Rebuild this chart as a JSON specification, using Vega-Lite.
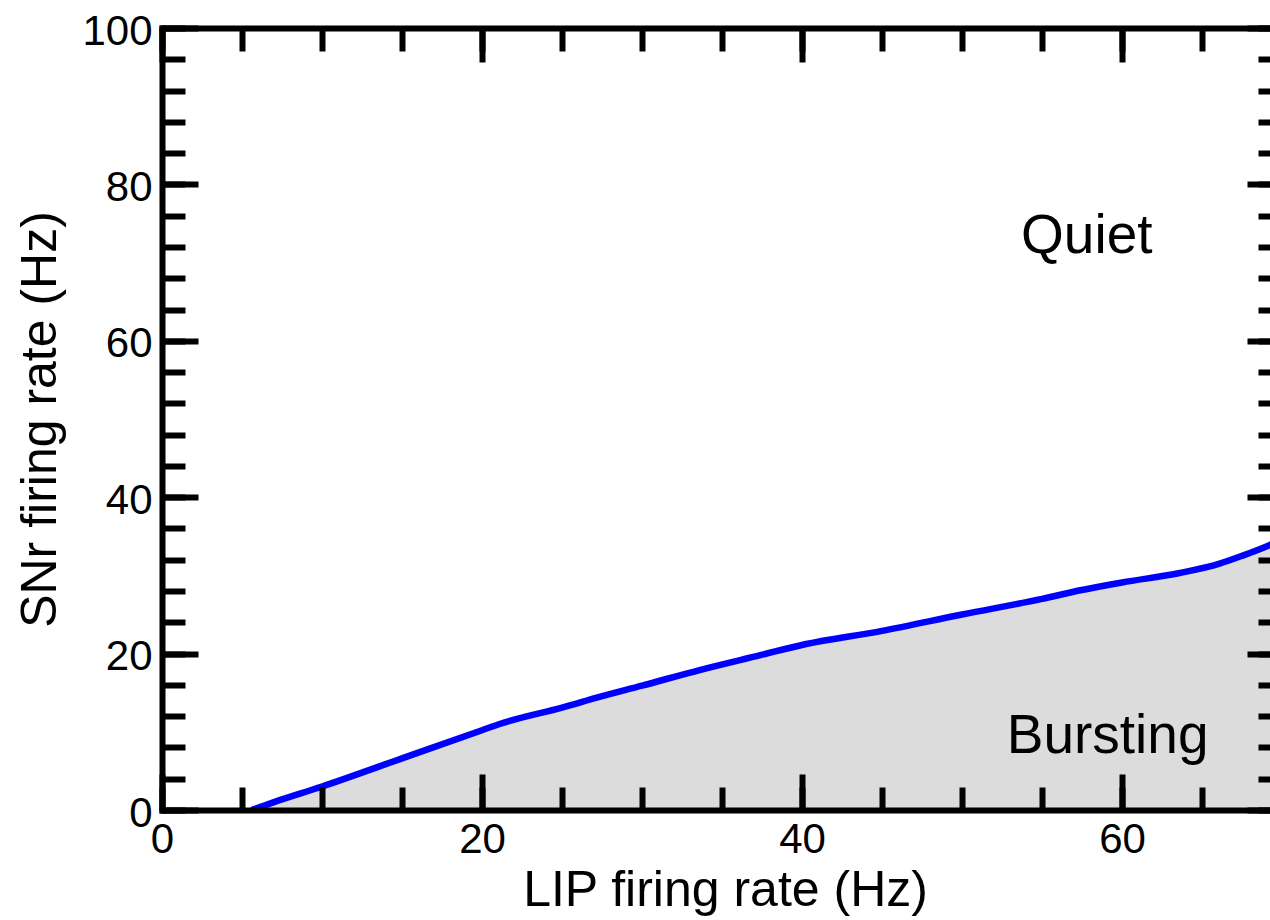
{
  "$schema": "https://vega.github.io/schema/vega-lite/v6.json",
  "usermeta": {"embedOptions": {"actions": false}},
  "autosize": {"type": "none"},
  "width": 1108,
  "height": 782,
  "padding": {"left": 162, "top": 28, "right": 0, "bottom": 110},
  "background": "white",
  "config": {
    "view": {"stroke": null},
    "font": "Liberation Sans",
    "axis": {
      "zindex": 1,
      "grid": false,
      "domainColor": "black",
      "domainWidth": 6,
      "domainCap": "square",
      "tickColor": "black",
      "tickWidth": 6,
      "tickCap": "butt",
      "labelColor": "black",
      "labelFont": "Liberation Sans",
      "labelFontSize": 42,
      "labelFlush": false,
      "labelOverlap": false,
      "titleColor": "black",
      "titleFont": "Liberation Sans",
      "titleFontSize": 50,
      "titleFontWeight": "normal"
    }
  },
  "datasets": {
    "boundary": [
      {"lip": 5.6, "snr": 0.0},
      {"lip": 7.0, "snr": 1.0},
      {"lip": 10.0, "snr": 3.0},
      {"lip": 15.0, "snr": 6.6},
      {"lip": 20.0, "snr": 10.2},
      {"lip": 21.1, "snr": 11.0},
      {"lip": 25.0, "snr": 13.1},
      {"lip": 27.4, "snr": 14.5},
      {"lip": 30.0, "snr": 15.9},
      {"lip": 33.6, "snr": 17.9},
      {"lip": 37.4, "snr": 19.8},
      {"lip": 40.0, "snr": 21.1},
      {"lip": 45.0, "snr": 22.9},
      {"lip": 50.0, "snr": 25.0},
      {"lip": 55.0, "snr": 27.0},
      {"lip": 57.4, "snr": 28.1},
      {"lip": 60.0, "snr": 29.1},
      {"lip": 63.6, "snr": 30.3},
      {"lip": 66.1, "snr": 31.5},
      {"lip": 67.5, "snr": 32.5},
      {"lip": 69.25, "snr": 33.9},
      {"lip": 70.0, "snr": 34.6}
    ],
    "regions": [
      {"label": "Quiet", "lip": 57.8, "snr": 71.2},
      {"label": "Bursting", "lip": 59.1, "snr": 7.3}
    ]
  },
  "resolve": {"axis": {"x": "independent", "y": "independent"}},
  "layer": [
    {
      "data": {"name": "boundary"},
      "mark": {"type": "area", "color": "#dcdcdc", "clip": true, "interpolate": "monotone"},
      "encoding": {
        "x": {
          "field": "lip", "type": "quantitative",
          "scale": {"domain": [0, 69.25], "nice": false, "zero": false},
          "axis": {
            "orient": "bottom",
            "zindex": 2,
            "title": "LIP firing rate (Hz)",
            "values": [0, 20, 40, 60],
            "tickSize": -36,
            "labelPadding": 78,
            "labelBaseline": "alphabetic",
            "titleX": 563,
            "titleY": 95,
            "titleAlign": "center",
            "titleBaseline": "alphabetic"
          }
        },
        "y": {
          "field": "snr", "type": "quantitative",
          "scale": {"domain": [0, 100], "nice": false},
          "axis": {
            "orient": "left",
            "zindex": 2,
            "title": "SNr firing rate (Hz)",
            "values": [0, 20, 40, 60, 80, 100],
            "tickSize": -36,
            "labelPadding": 46,
            "labelAlign": "right",
            "labelBaseline": "middle",
            "labelOffset": 3,
            "titleX": -107,
            "titleY": 391,
            "titleAngle": -90,
            "titleAlign": "center",
            "titleBaseline": "alphabetic"
          }
        }
      }
    },
    {
      "data": {"name": "boundary"},
      "mark": {"type": "line", "color": "#0000ff", "strokeWidth": 6.5, "clip": true, "interpolate": "monotone"},
      "encoding": {
        "x": {
          "field": "lip", "type": "quantitative",
          "axis": {
            "orient": "bottom", "zindex": 2, "title": null, "labels": false, "domain": false,
            "values": [0, 5, 10, 15, 20, 25, 30, 35, 40, 45, 50, 55, 60, 65],
            "tickSize": -23
          }
        },
        "y": {
          "field": "snr", "type": "quantitative",
          "axis": {
            "orient": "left", "zindex": 2, "title": null, "labels": false, "domain": false,
            "values": [0, 4, 8, 12, 16, 20, 24, 28, 32, 36, 40, 44, 48, 52, 56, 60, 64, 68, 72, 76, 80, 84, 88, 92, 96, 100],
            "tickSize": -23
          }
        }
      }
    },
    {
      "data": {"name": "regions"},
      "transform": [{"filter": "datum.label === 'Quiet'"}],
      "mark": {"type": "text", "fontSize": 55, "font": "Liberation Sans", "color": "black", "align": "center", "baseline": "alphabetic"},
      "encoding": {
        "text": {"field": "label"},
        "x": {
          "field": "lip", "type": "quantitative",
          "axis": {
            "orient": "top", "zindex": 2, "title": null, "labels": false,
            "values": [0, 20, 40, 60],
            "tickSize": -34
          }
        },
        "y": {
          "field": "snr", "type": "quantitative",
          "axis": {
            "orient": "right", "zindex": 2, "title": null, "labels": false, "domain": false,
            "values": [0, 20, 40, 60, 80, 100],
            "tickSize": -23
          }
        }
      }
    },
    {
      "data": {"name": "regions"},
      "transform": [{"filter": "datum.label === 'Bursting'"}],
      "mark": {"type": "text", "fontSize": 55, "font": "Liberation Sans", "color": "black", "align": "center", "baseline": "alphabetic"},
      "encoding": {
        "text": {"field": "label"},
        "x": {
          "field": "lip", "type": "quantitative",
          "axis": {
            "orient": "top", "zindex": 2, "title": null, "labels": false, "domain": false,
            "values": [0, 5, 10, 15, 20, 25, 30, 35, 40, 45, 50, 55, 60, 65],
            "tickSize": -23
          }
        },
        "y": {
          "field": "snr", "type": "quantitative",
          "axis": {
            "orient": "right", "zindex": 2, "title": null, "labels": false, "domain": false,
            "values": [0, 4, 8, 12, 16, 20, 24, 28, 32, 36, 40, 44, 48, 52, 56, 60, 64, 68, 72, 76, 80, 84, 88, 92, 96, 100],
            "tickSize": -12
          }
        }
      }
    }
  ]
}
